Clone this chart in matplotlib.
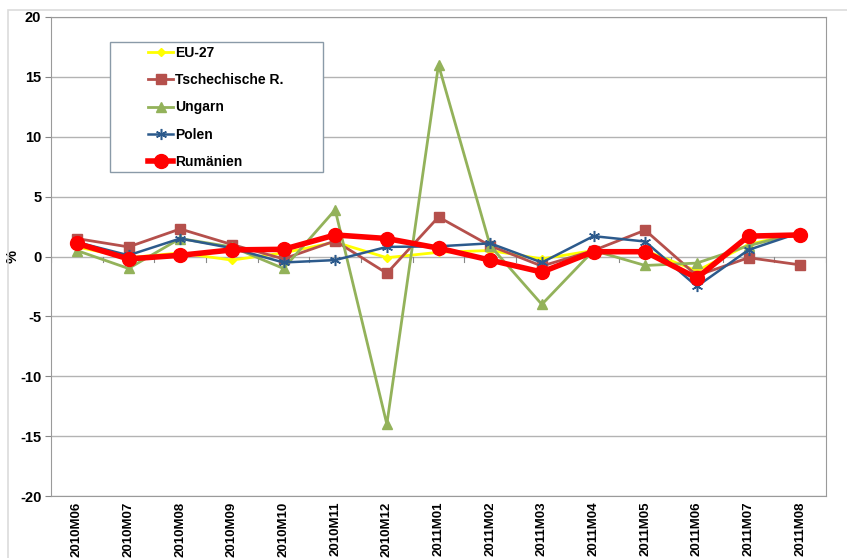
import matplotlib
matplotlib.use("Agg")
import matplotlib.pyplot as plt
from matplotlib.patches import Rectangle

plt.rcParams['font.family'] = ['Liberation Sans', 'DejaVu Sans']
plt.rcParams['font.weight'] = 'bold'
plt.rcParams['axes.unicode_minus'] = False

months = ['2010M06', '2010M07', '2010M08', '2010M09', '2010M10', '2010M11', '2010M12',
          '2011M01', '2011M02', '2011M03', '2011M04', '2011M05', '2011M06', '2011M07', '2011M08']

eu27 = [0.8, -0.1, 0.3, -0.3, 0.3, 1.2, -0.1, 0.35, 0.5, -0.2, 0.5, 0.5, -1.2, 1.0, 2.0]
tschechien = [1.5, 0.8, 2.3, 1.0, -0.2, 1.3, -1.4, 3.3, 0.9, -0.8, 0.5, 2.2, -1.6, -0.1, -0.7]
ungarn = [0.5, -1.0, 1.5, 0.8, -1.0, 3.9, -14.0, 16.0, 0.9, -4.0, 0.5, -0.75, -0.55, 0.9, 2.0]
polen = [1.2, 0.1, 1.5, 0.7, -0.5, -0.3, 0.8, 0.85, 1.1, -0.5, 1.7, 1.25, -2.5, 0.55, 2.0]
rumaenien = [1.1, -0.2, 0.1, 0.55, 0.6, 1.8, 1.5, 0.7, -0.3, -1.3, 0.4, 0.4, -1.8, 1.7, 1.8]

W, H = 847, 558
fig = plt.figure(figsize=(W / 100, H / 100), dpi=100)

# outer chart border (light)
fig.patches.append(Rectangle((8 / W, -0.1), 1.2, 1 - 10 / H + 0.1, transform=fig.transFigure,
                             fill=False, edgecolor='#dcdcdc', lw=1.2))

ax = fig.add_axes([51 / W, 62 / H, 775 / W, 479 / H])

x = list(range(len(months)))

ax.plot(x, eu27, color='#ffff00', lw=2, marker='D', ms=4, label='EU-27', zorder=3)
ax.plot(x, tschechien, color='#b5504c', lw=2, marker='s', ms=7, label='Tschechische R.', zorder=4)
ax.plot(x, ungarn, color='#93b25a', lw=2, marker='^', ms=7, label='Ungarn', zorder=4)
ax.plot(x, polen, color='#2c5a8c', lw=1.8, marker=(6, 2, 0), ms=8, mew=1.1, label='Polen', zorder=5)
ax.plot(x, rumaenien, color='#ff0000', lw=4, marker='o', ms=10, label='Rumänien', zorder=6)

ax.set_xlim(-0.5, len(months) - 0.5)
ax.set_ylim(-20, 20)
ax.set_yticks(range(-20, 21, 5))
ax.set_xticks(x)
ax.set_xticklabels(months, rotation=90, fontsize=9.5, fontweight='bold', va='top')
ax.tick_params(axis='x', length=0, pad=4)
ax.tick_params(axis='y', labelsize=10.5, length=4, color='#888888', pad=3)
for t in ax.get_yticklabels():
    t.set_fontweight('bold')

ax.grid(axis='y', color='#b3b3b3', lw=1)
ax.set_axisbelow(True)
for s in ['left', 'right', 'bottom', 'top']:
    ax.spines[s].set_color('#9a9a9a')

# category tick marks at the zero line
for b in range(len(months) + 1):
    ax.plot([b - 0.5, b - 0.5], [0, -0.45], color='#888888', lw=0.8, zorder=2)

ax.set_ylabel('%', fontsize=10.5, fontweight='bold')
ax.yaxis.set_label_coords(-0.04, 0.5)

# legend frame drawn as a box, entries inside
ax.add_patch(Rectangle((59 / 775, 1 - 155 / 479), 213 / 775, 130 / 479, transform=ax.transAxes,
                       fill=True, facecolor='white', edgecolor='#8a9aa8', lw=1, zorder=7))
leg = ax.legend(loc='upper left', bbox_to_anchor=(97 / 775, 1 - 29 / 479), frameon=False,
                fontsize=10, handlelength=1.8, handletextpad=0.15,
                labelspacing=0.95, borderpad=0, borderaxespad=0)
leg.set_zorder(8)
for t in leg.get_texts():
    t.set_fontweight('bold')

fig.savefig('out.png', dpi=100)
